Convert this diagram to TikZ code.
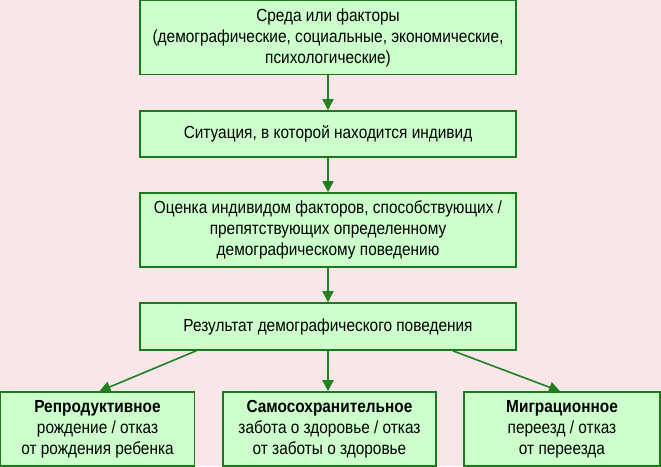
\documentclass[tikz,border=0pt]{standalone}
\usepackage{fontspec}
\setmainfont{Liberation Sans}[FakeStretch=0.88]
\usetikzlibrary{arrows.meta}
\definecolor{bg}{HTML}{F8E6E8}
\definecolor{boxfill}{HTML}{CCFFCC}
\definecolor{boxline}{HTML}{1A7A1A}
\definecolor{arrowc}{HTML}{1E801E}
\tikzset{
  box/.style={draw=boxline, fill=boxfill, line width=1.6pt, align=center,
    inner sep=0pt, font=\fontsize{17.5}{21}\selectfont, text=black},
  arr/.style={draw=arrowc, line width=1.6pt, -{Triangle[width=11pt,length=11pt]}}
}
\begin{document}
\begin{tikzpicture}[x=1pt,y=-1pt]
\fill[bg] (0,0) rectangle (661,466);
\useasboundingbox (0,0) rectangle (661,466);
\node[box, minimum width=376pt, minimum height=74pt] (b1) at (328,37.5)
  {Среда или факторы\\(демографические, социальные, экономические,\\психологические)};
\node[box, minimum width=376pt, minimum height=46pt] (b2) at (328,134)
  {Ситуация, в которой находится индивид};
\node[box, minimum width=376pt, minimum height=74pt] (b3) at (328,230)
  {Оценка индивидом факторов, способствующих /\\препятствующих определенному\\демографическому поведению};
\node[box, minimum width=376pt, minimum height=47pt] (b4) at (328,326.5)
  {Результат демографического поведения};
\node[box, minimum width=194pt, minimum height=74pt] (A) at (97.5,429)
  {\textbf{Репродуктивное}\\рождение / отказ\\от рождения ребенка};
\node[box, minimum width=213pt, minimum height=74pt] (B) at (329.5,429)
  {\textbf{Самосохранительное}\\забота о здоровье / отказ\\от заботы о здоровье};
\node[box, minimum width=196pt, minimum height=74pt] (C) at (562,429)
  {\textbf{Миграционное}\\переезд / отказ\\от переезда};
\draw[arr] (b1.south) -- (b2.north);
\draw[arr] (b2.south) -- (b3.north);
\draw[arr] (b3.south) -- (b4.north);
\draw[arr] ([xshift=57pt]b4.south west) -- ([xshift=2pt]A.north);
\draw[arr] (b4.south) -- (B.north -| b4.south);
\draw[arr] ([xshift=-64pt]b4.south east) -- ([xshift=-2pt]C.north);
\end{tikzpicture}
\end{document}
